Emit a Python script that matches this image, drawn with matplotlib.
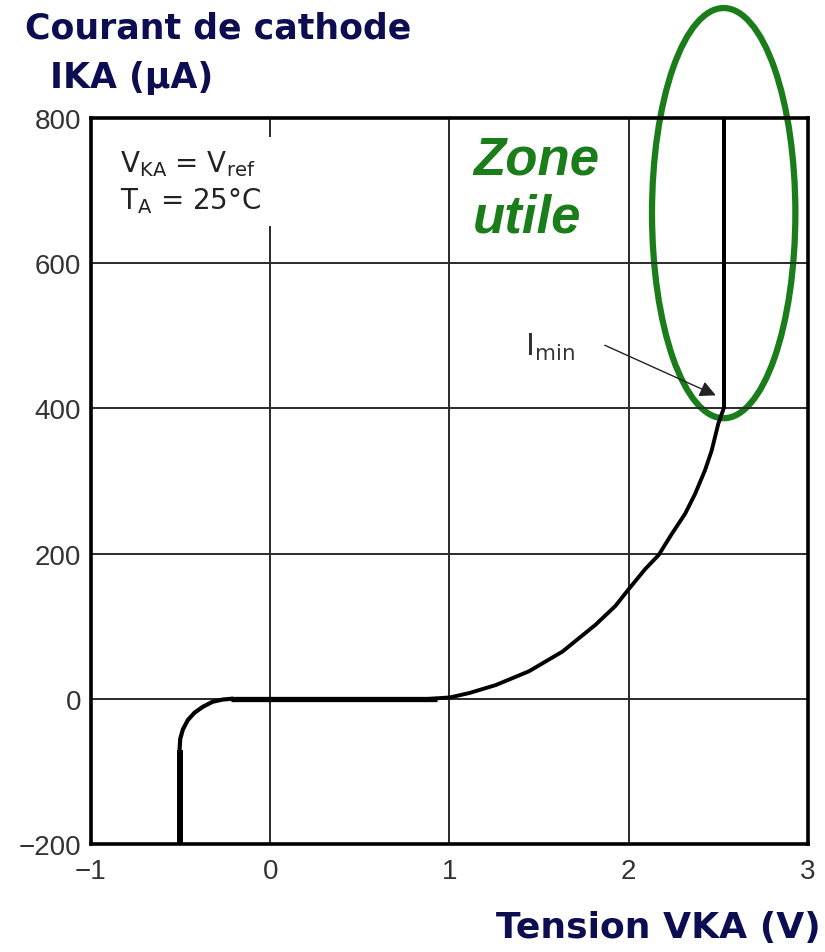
import matplotlib
matplotlib.use("Agg")
import matplotlib.pyplot as plt
from matplotlib.patches import Ellipse
from matplotlib.ticker import FuncFormatter

plt.rcParams["font.family"] = ["Liberation Sans", "DejaVu Sans"]
plt.rcParams["mathtext.fontset"] = "custom"
plt.rcParams["mathtext.rm"] = "DejaVu Sans"
plt.rcParams["mathtext.it"] = "DejaVu Sans:italic"

NAVY = "#0d0d52"
GREEN = "#1a7d1a"
WIDE = ["DejaVu Sans"]

# reverse branch: vertical at -0.5 V, then the rounded knee into 0
v_rev = [-0.506, -0.506, -0.502, -0.487, -0.459, -0.422, -0.376, -0.321, -0.265, -0.218]
i_rev = [-200, -71, -55, -42, -29, -19, -11, -4, -1, 0]
# flat (off) region
v_flat = [-0.22, 0.93]
i_flat = [0, 0]
# rising part up to Imin
v_rise = [0.889, 1.004, 1.111, 1.259, 1.444, 1.630, 1.815, 1.926, 2.000, 2.093,
          2.167, 2.240, 2.315, 2.370, 2.426, 2.463, 2.500, 2.530]
i_rise = [0, 2, 8, 19, 38, 65, 102, 128, 151, 179,
          198, 227, 255, 282, 315, 342, 379, 400]
# regulation zone: vertical line at Vref
v_reg = [2.53, 2.53]
i_reg = [400, 800]

xticks = [-1, 0, 1, 2, 3]
yticks = [-200, 0, 200, 400, 600, 800]

# plain-text tick labels (no mathtext) with a real minus sign
plain = FuncFormatter(lambda v, pos: f"{v:g}".replace("-", "\u2212"))

fig = plt.figure(figsize=(8.25, 9.53), dpi=100)
ax = fig.add_axes([0.1103, 0.1133, 0.869, 0.7618])
ax.set_xlim(-1, 3)
ax.set_ylim(-200, 800)
ax.set_xticks(xticks)
ax.set_yticks(yticks)
ax.xaxis.set_major_formatter(plain)
ax.yaxis.set_major_formatter(plain)
ax.grid(True, color="#2a2a2a", lw=1.4)
ax.tick_params(labelsize=20, labelcolor="#333333", length=0)
ax.tick_params(axis="y", pad=7)
ax.tick_params(axis="x", pad=10)
for s in ax.spines.values():
    s.set_linewidth(2.6)
    s.set_color("black")

ax.plot(v_rev[:2], i_rev[:2], color="black", lw=4.3, solid_capstyle="butt")
ax.plot(v_rev[1:], i_rev[1:], color="black", lw=3.0, solid_joinstyle="round")
ax.plot(v_flat, i_flat, color="black", lw=3.8, solid_capstyle="butt")
ax.plot(v_rise, i_rise, color="black", lw=2.8, solid_joinstyle="round")
ax.plot(v_reg, i_reg, color="black", lw=2.9, solid_capstyle="butt")

ax.text(-0.84, 758, r"$\mathrm{V_{KA}}$ = $\mathrm{V_{ref}}$" + "\n" + r"$\mathrm{T_A}$ = 25°C",
        fontsize=20, family=WIDE, color="#222222", ha="left", va="top", linespacing=1.3,
        bbox=dict(fc="white", ec="none", pad=8))

ax.text(1.56, 486, r"$\mathrm{I_{min}}$", fontsize=22, color="#333333", ha="center", va="center")
ax.annotate("", xy=(2.486, 418), xytext=(1.867, 487),
            arrowprops=dict(arrowstyle="-|>", color="#222222", lw=1.0,
                            mutation_scale=24, shrinkA=0, shrinkB=0))

ell = Ellipse((2.53, 669), 0.80, 565, fill=False, ec=GREEN, lw=4.5, clip_on=False)
ax.add_patch(ell)
ax.text(1.13, 777, "Zone\nutile", fontsize=38, fontweight="bold", style="italic",
        color=GREEN, ha="left", va="top", linespacing=1.2)

fig.text(0.03, 0.988, "Courant de cathode", fontsize=25, fontweight="bold", family=WIDE,
         color=NAVY, ha="left", va="top")
fig.text(0.06, 0.936, "IKA (µA)", fontsize=25, fontweight="bold", family=WIDE,
         color=NAVY, ha="left", va="top")
fig.text(0.995, 0.008, "Tension VKA (V)", fontsize=26, fontweight="bold", family=WIDE,
         color=NAVY, ha="right", va="bottom")

fig.savefig("out.png", dpi=100)
